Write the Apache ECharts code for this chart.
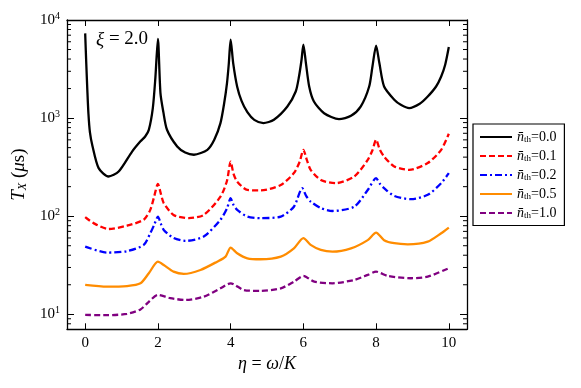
<!DOCTYPE html>
<html>
<head>
<meta charset="utf-8">
<script src="https://cdn.jsdelivr.net/npm/echarts@6/dist/echarts.min.js"></script>
<style>html,body{margin:0;padding:0;background:#fff}#c{width:581px;height:388px}</style>
</head>
<body>
<div id="c"></div>
<script>
// ---- data ----
const xTicks = [0, 2, 4, 6, 8, 10];
const yTicks = [10, 100, 1000, 10000];
const seriesNames = ['0.0', '0.1', '0.2', '0.5', '1.0'];

const etaBlack = [0, 0.03, 0.06, 0.09, 0.13, 0.2, 0.37, 0.64, 0.92, 1.29, 1.52, 1.65, 1.75, 1.86, 1.93, 2.0, 2.07, 2.15, 2.25, 2.53, 2.75, 2.99, 3.36, 3.55, 3.72, 3.82, 3.9, 3.95, 4.0, 4.07, 4.18, 4.3, 4.46, 4.65, 4.9, 5.19, 5.56, 5.79, 5.88, 5.95, 6.0, 6.07, 6.16, 6.29, 6.57, 6.98, 7.31, 7.58, 7.81, 7.9, 8.0, 8.09, 8.22, 8.5, 8.68, 8.91, 9.2, 9.42, 9.65, 9.79, 9.9, 10];
const tBlack = [7300, 3600, 1900, 1100, 720, 520, 309, 254, 285, 456, 580, 649, 759, 1265, 2560, 6400, 1800, 1150, 760, 513, 446, 423, 475, 601, 889, 1400, 2276, 3600, 6300, 3640, 2090, 1500, 1150, 960, 890, 962, 1312, 1866, 2655, 3936, 5600, 3640, 2100, 1476, 1122, 977, 1055, 1318, 2100, 3360, 5470, 3640, 2100, 1540, 1368, 1265, 1400, 1660, 2100, 2655, 3500, 5300];

const etaRed = [0, 0.23, 0.64, 1.15, 1.61, 1.79, 1.9, 2.0, 2.08, 2.16, 2.43, 2.85, 3.26, 3.72, 3.9, 4.0, 4.08, 4.18, 4.46, 4.82, 5.38, 5.74, 5.9, 6.0, 6.1, 6.2, 6.48, 6.89, 7.4, 7.77, 7.9, 8.0, 8.1, 8.22, 8.5, 8.91, 9.42, 9.79, 10];
const tRed = [98, 85, 74, 80, 92, 116, 160, 214, 170, 136, 103, 95.5, 103, 158, 230, 360, 270, 225, 185, 183, 208, 275, 360, 475, 370, 297, 234, 217, 254, 375, 470, 601, 480, 405, 321, 297, 348, 475, 692];

const etaBlue = [0, 0.6, 1.15, 1.61, 1.79, 1.9, 2.0, 2.08, 2.16, 2.43, 2.76, 3.26, 3.72, 3.9, 4.0, 4.08, 4.18, 4.46, 4.82, 5.38, 5.74, 5.97, 6.08, 6.2, 6.48, 6.8, 7.4, 7.77, 8.0, 8.1, 8.22, 8.5, 8.96, 9.42, 9.79, 10];
const tBlue = [49, 42.6, 44, 51, 67, 82, 99, 84, 72.5, 60, 56, 62, 92, 120, 153, 130, 116, 99, 95.5, 99, 125, 193, 160, 141, 121, 113, 125, 185, 244, 215, 193, 161, 149, 165, 217, 275];

const etaOrange = [0, 0.6, 1.15, 1.52, 1.75, 2.0, 2.16, 2.43, 2.71, 3.17, 3.63, 3.86, 4.0, 4.18, 4.46, 4.82, 5.38, 5.74, 6.0, 6.2, 6.48, 6.8, 7.31, 7.77, 8.0, 8.22, 8.5, 8.87, 9.42, 9.79, 10];
const tOrange = [19.9, 19.1, 19.4, 20.7, 26.2, 34.4, 31.8, 27.2, 25.8, 28.3, 34.4, 38.7, 47.9, 41.9, 37.2, 36.4, 38.7, 47, 59.7, 51, 45.3, 43.5, 47, 57, 68, 57, 53, 51.7, 55, 67, 76.6];

const etaPurple = [0, 0.6, 1.15, 1.52, 1.75, 2.0, 2.34, 2.76, 3.26, 3.72, 4.0, 4.36, 4.82, 5.38, 5.74, 6.0, 6.3, 6.8, 7.4, 7.77, 8.0, 8.32, 8.96, 9.42, 10];
const tPurple = [9.85, 9.8, 10.1, 11.2, 13.4, 15.8, 14.6, 14, 15.1, 18.4, 20.7, 17.7, 17.3, 18.4, 21.5, 24.6, 21.5, 20.7, 22.4, 25.2, 27.2, 24.6, 23.3, 24.2, 29.5];

const minorTickValues = [8, 9, 20, 30, 40, 50, 60, 70, 80, 90, 200, 300, 400, 500, 600, 700, 800, 900, 2000, 3000, 4000, 5000, 6000, 7000, 8000, 9000];

// ---- chart ----
const FONT = 'Liberation Serif';
const zip = (a, b) => a.map((v, i) => [v, b[i]]);
const chart = echarts.init(document.getElementById('c'), null, {renderer: 'canvas'});

const lineDefs = [
  {x: etaBlack,  y: tBlack,  color: '#000000', type: 'solid'},
  {x: etaRed,    y: tRed,    color: '#ff0000', type: [6, 3]},
  {x: etaBlue,   y: tBlue,   color: '#0000ff', type: [7, 3, 2, 3]},
  {x: etaOrange, y: tOrange, color: '#ff8c00', type: 'solid'},
  {x: etaPurple, y: tPurple, color: '#800080', type: [6, 3]}
];

const legendRich = {
  i: {fontFamily: FONT, fontStyle: 'italic', fontSize: 14, color: '#000'},
  s: {fontFamily: FONT, fontSize: 9, color: '#000', verticalAlign: 'bottom', padding: [6, 0, 0, 0]},
  n: {fontFamily: FONT, fontSize: 14, color: '#000'}
};

const series = lineDefs.map((d, k) => ({
  name: seriesNames[k],
  type: 'line',
  xAxisIndex: 0, yAxisIndex: 0,
  data: zip(d.x, d.y),
  showSymbol: false, symbol: 'none',
  smooth: 0.25,
  lineStyle: {color: d.color, width: 2.3, type: d.type},
  itemStyle: {color: d.color},
  z: 10 - k
}));

// minor ticks on the log axis (left and right), drawn through the axis scale
series.push({
  type: 'custom',
  xAxisIndex: 0, yAxisIndex: 0,
  data: minorTickValues.map(v => [0, v]),
  silent: true,
  clip: false,
  renderItem: function (params, api) {
    const p = api.coord([-0.5, api.value(1)]);
    const q = api.coord([10.5, api.value(1)]);
    return {
      type: 'group',
      children: [
        {type: 'line', shape: {x1: p[0], y1: p[1], x2: p[0] + 4, y2: p[1]}, style: {stroke: '#000', lineWidth: 1}},
        {type: 'line', shape: {x1: q[0], y1: q[1], x2: q[0] - 4, y2: q[1]}, style: {stroke: '#000', lineWidth: 1}}
      ]
    };
  }
});

const yLabelFmt = v => {
  const e = Math.round(Math.log10(v));
  if (Math.abs(Math.log10(v) - e) > 1e-6) return '';
  return '{b|10}{sup|' + e + '}';
};

chart.setOption({
  animation: false,
  backgroundColor: '#fff',
  grid: {left: 67, top: 20, right: 114, bottom: 58.7, show: false},
  xAxis: [{
    type: 'value', min: -0.5, max: 10.5, interval: 2,
    position: 'bottom',
    axisLine: {show: true, onZero: false, lineStyle: {color: '#000', width: 1.3}},
    axisTick: {show: true, inside: true, length: 6, lineStyle: {color: '#000', width: 1}, customValues: xTicks},
    axisLabel: {show: true, fontFamily: FONT, fontSize: 15, color: '#000', margin: 6, customValues: xTicks},
    splitLine: {show: false},
    name: '{i|η}{n| = }{i|ω}{n|/}{i|K}',
    nameLocation: 'middle', nameGap: 21,
    nameTextStyle: {rich: {
      i: {fontFamily: FONT, fontStyle: 'italic', fontSize: 18, color: '#000'},
      n: {fontFamily: FONT, fontSize: 18, color: '#000'}
    }}
  }, {
    type: 'value', min: -0.5, max: 10.5, interval: 2,
    position: 'top',
    axisLine: {show: true, onZero: false, lineStyle: {color: '#000', width: 1.3}},
    axisTick: {show: true, inside: true, length: 6, lineStyle: {color: '#000', width: 1}, customValues: xTicks},
    axisLabel: {show: false},
    splitLine: {show: false}
  }],
  yAxis: [{
    type: 'log', logBase: 10, min: 7.03, max: 10000,
    position: 'left',
    axisLine: {show: true, onZero: false, lineStyle: {color: '#000', width: 1.3}},
    axisTick: {show: true, inside: true, length: 7, lineStyle: {color: '#000', width: 1}, customValues: yTicks},
    axisLabel: {show: true, margin: 7, formatter: yLabelFmt, customValues: yTicks, rich: {
      b: {fontFamily: FONT, fontSize: 15, color: '#000'},
      sup: {fontFamily: FONT, fontSize: 10, color: '#000', verticalAlign: 'top', padding: [0, 0, 8, 0]}
    }},
    splitLine: {show: false},
    name: '{i|T}{sub|X}{n| (}{i|μ}{n|s)}',
    nameLocation: 'middle', nameGap: 37,
    nameTextStyle: {rich: {
      i: {fontFamily: FONT, fontStyle: 'italic', fontSize: 19, color: '#000'},
      sub: {fontFamily: FONT, fontStyle: 'italic', fontSize: 12, color: '#000', verticalAlign: 'bottom', padding: [8, 0, 0, 0]},
      n: {fontFamily: FONT, fontSize: 19, color: '#000'}
    }}
  }, {
    type: 'log', logBase: 10, min: 7.03, max: 10000,
    position: 'right',
    axisLine: {show: true, onZero: false, lineStyle: {color: '#000', width: 1.3}},
    axisTick: {show: true, inside: true, length: 7, lineStyle: {color: '#000', width: 1}, customValues: yTicks},
    axisLabel: {show: false},
    splitLine: {show: false}
  }],
  legend: {
    orient: 'vertical',
    left: 473, top: 124,
    data: seriesNames,
    formatter: n => '{i|n̄}{s|th}{n|=' + n + '}',
    textStyle: {rich: legendRich},
    itemWidth: 32, itemHeight: 10, itemGap: 4.5,
    itemStyle: {opacity: 0, borderWidth: 0},
    padding: [6, 8, 5, 6],
    borderColor: '#000', borderWidth: 1.2, borderRadius: 0,
    backgroundColor: '#fff',
    selectedMode: false
  },
  graphic: [{
    type: 'text', left: 96, top: 30,
    style: {
      text: '{i|ξ}{n| = 2.0}',
      rich: {
        i: {fontFamily: FONT, fontStyle: 'italic', fontSize: 19, fill: '#000'},
        n: {fontFamily: FONT, fontSize: 19, fill: '#000'}
      }
    }
  }],
  series: series
});
</script>
</body>
</html>
